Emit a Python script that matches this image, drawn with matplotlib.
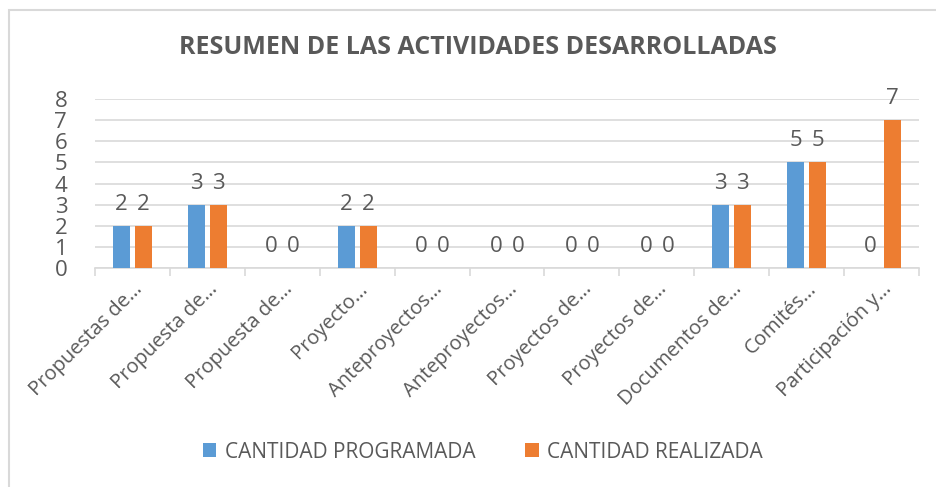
import matplotlib
matplotlib.use("Agg")
import matplotlib.pyplot as plt
import numpy as np
from matplotlib.patches import Rectangle

plt.rcParams['font.family'] = ['Open Sans', 'DejaVu Sans']

categories = ['Propuestas de…', 'Propuesta de…', 'Propuesta de…', 'Proyecto…',
              'Anteproyectos…', 'Anteproyectos…', 'Proyectos de…', 'Proyectos de…',
              'Documentos de…', 'Comités…', 'Participación y…']
programada = [2, 3, 0, 2, 0, 0, 0, 0, 3, 5, 0]
realizada = [2, 3, 0, 2, 0, 0, 0, 0, 3, 5, 7]

blue = '#5B9BD5'
orange = '#ED7D31'
txt = '#595959'

fig = plt.figure(figsize=(9.36, 4.87), dpi=100)
ax = fig.add_axes([95/936, 1 - 268/487, (919 - 95)/936, (268 - 99)/487])

# light frame around the chart
fig.patches.append(Rectangle((9/936, -0.05), 1.0, 1 - 10/487 + 0.05,
                             transform=fig.transFigure, fill=False,
                             edgecolor='#D9D9D9', linewidth=1.5))

x = np.arange(len(categories))
w = 0.23
off = 0.147
b1 = ax.bar(x - off, programada, w, color=blue, label='CANTIDAD PROGRAMADA', zorder=3)
b2 = ax.bar(x + off, realizada, w, color=orange, label='CANTIDAD REALIZADA', zorder=3)
ax.bar_label(b1, padding=8, fontsize=16, color=txt)
ax.bar_label(b2, padding=8, fontsize=16, color=txt)

ax.set_xlim(-0.5, len(categories) - 0.5)
ax.set_ylim(0, 8)
ax.set_yticks(range(0, 9))
ax.yaxis.grid(True, color='#D9D9D9', linewidth=1.2, zorder=0)
ax.set_axisbelow(True)

ax.set_xticks(np.arange(len(categories) + 1) - 0.5, minor=False)
ax.set_xticklabels([])
ax.set_xticks(x, minor=True)
ax.set_xticklabels(categories, minor=True, rotation=45, ha='right',
                   rotation_mode='anchor', fontsize=14.5, color=txt)
ax.tick_params(axis='x', which='major', length=6, color='#D9D9D9', width=1.2)
ax.tick_params(axis='x', which='minor', length=0, pad=8)
ax.tick_params(axis='y', length=0, labelsize=16, labelcolor=txt, pad=20)

for s in ['top', 'right', 'left']:
    ax.spines[s].set_visible(False)
ax.spines['bottom'].set_color('#D9D9D9')
ax.spines['bottom'].set_linewidth(1.2)

fig.text(478/936, 1 - 47/487, 'RESUMEN DE LAS ACTIVIDADES DESARROLLADAS',
         ha='center', va='center', fontsize=18, fontweight='bold', color=txt)

fig.legend(loc='center', bbox_to_anchor=(483/936, 1 - 452/487), ncol=2,
           frameon=False, fontsize=15, labelcolor=txt, handlelength=0.65,
           handleheight=0.65, handletextpad=0.4, columnspacing=2.4)

fig.savefig('out.png', dpi=100)
